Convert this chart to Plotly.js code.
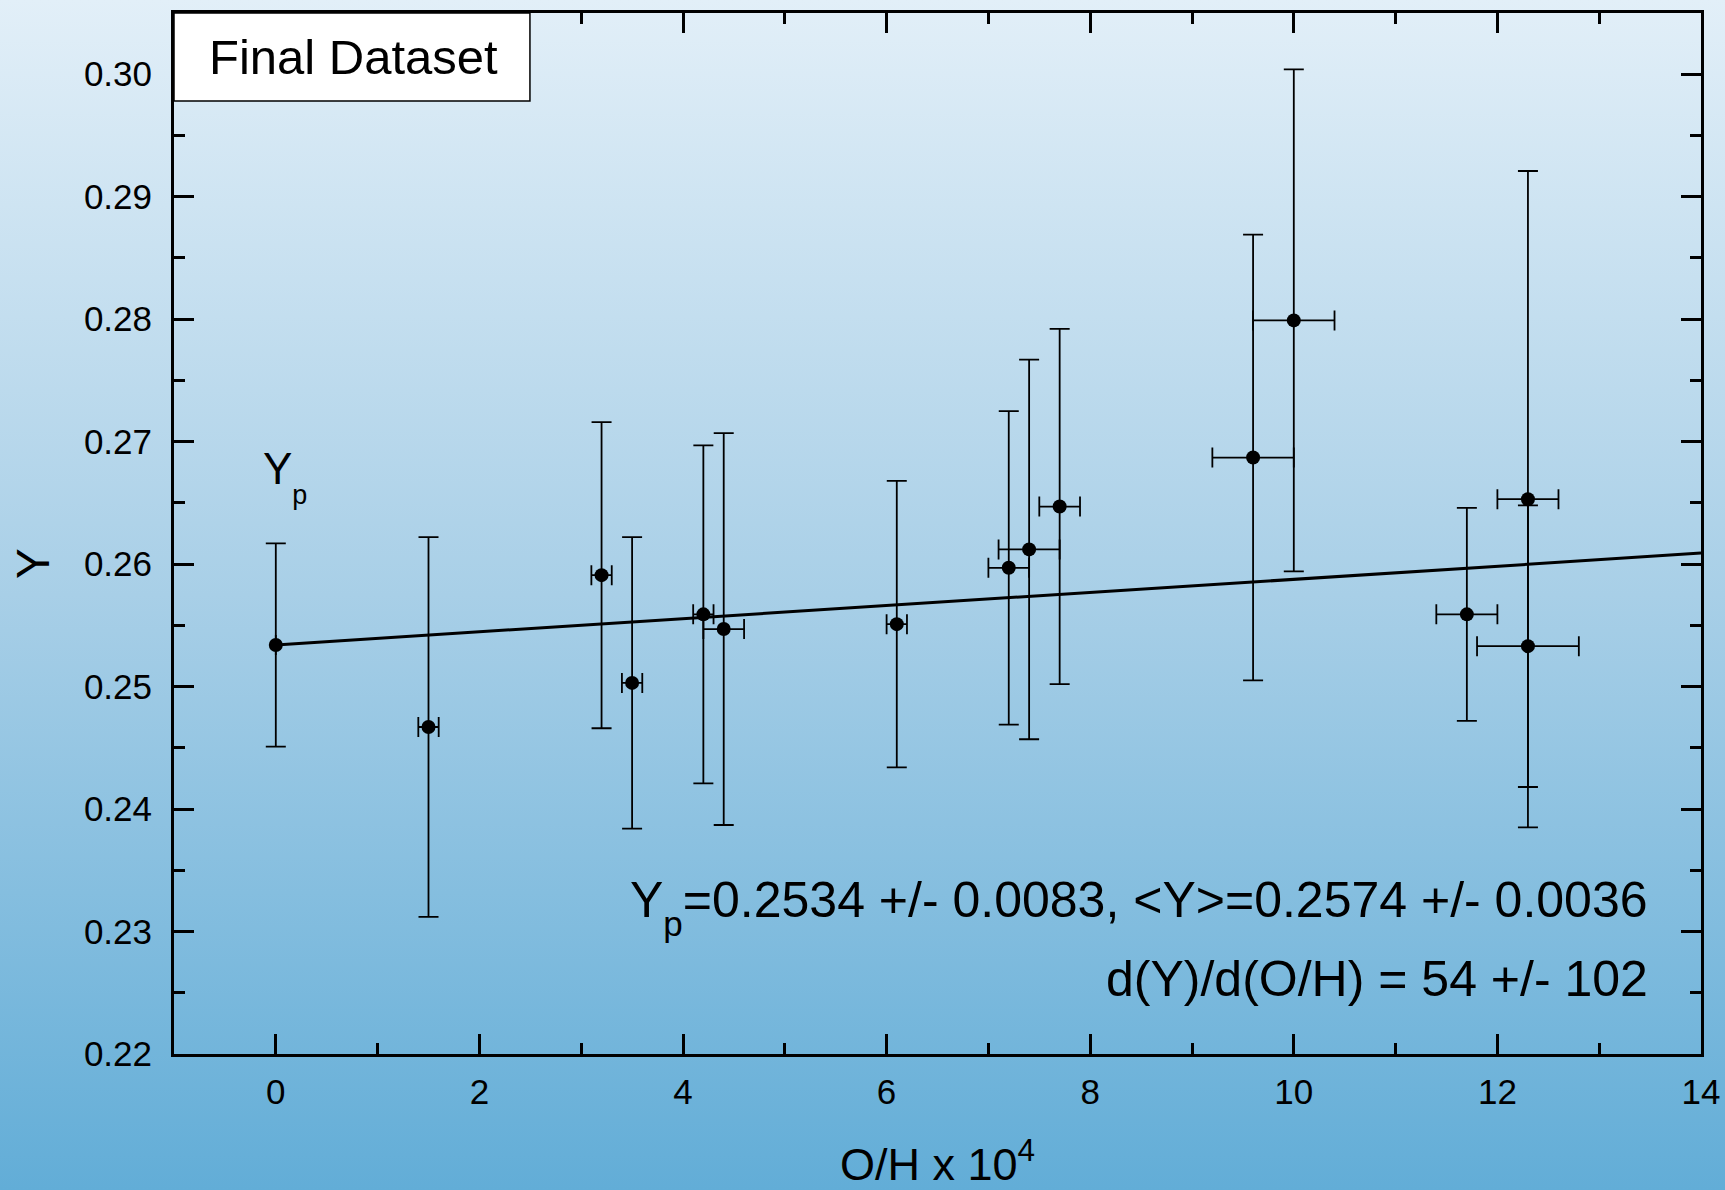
<!DOCTYPE html>
<html>
<head>
<meta charset="utf-8">
<script src="https://cdn.plot.ly/plotly-3.0.1.min.js"></script>
<style>
  html, body { margin: 0; padding: 0; }
  body { width: 1725px; height: 1190px; background: linear-gradient(to bottom, #e2eff8 0%, #a8cfe7 50%, #62add7 100%); }
  #chart { width: 1725px; height: 1190px; }
</style>
</head>
<body>
<div id="chart"></div>
<script>
// O/H x 10^4
const ohValues = [0, 1.5, 3.2, 3.5, 4.2, 4.4, 6.1, 7.2, 7.4, 7.7, 9.6, 10.0, 11.7, 12.3, 12.3];
const ohErrors = [0, 0.1, 0.1, 0.1, 0.1, 0.2, 0.1, 0.2, 0.3, 0.2, 0.4, 0.4, 0.3, 0.3, 0.5];
// Helium mass fraction Y
const yValues = [0.2534, 0.2467, 0.2591, 0.2503, 0.2559, 0.2547, 0.2551, 0.2597, 0.2612, 0.2647, 0.2687, 0.2799, 0.2559, 0.2653, 0.2533];
const yErrors = [0.0083, 0.0155, 0.0125, 0.0119, 0.0138, 0.0160, 0.0117, 0.0128, 0.0155, 0.0145, 0.0182, 0.0205, 0.0087, 0.0268, 0.0115];
// Linear fit endpoints
const fitX = [0, 14];
const fitY = [0.2534, 0.2609];
// Axis ticks
const xTicks = [0, 2, 4, 6, 8, 10, 12, 14];
const yTicks = [0.22, 0.23, 0.24, 0.25, 0.26, 0.27, 0.28, 0.29, 0.30];
const yTickLabels = ['0.22', '0.23', '0.24', '0.25', '0.26', '0.27', '0.28', '0.29', '0.30'];

const FONT = 'Liberation Sans, Arial, Helvetica, sans-serif';

const traces = [
  {
    x: fitX, y: fitY, mode: 'lines', type: 'scatter',
    line: {color: '#000', width: 3}, hoverinfo: 'skip', showlegend: false
  },
  {
    x: ohValues, y: yValues, mode: 'markers', type: 'scatter',
    marker: {color: '#000', size: 14},
    error_y: {type: 'data', array: yErrors, visible: true, color: '#000', thickness: 1.8, width: 10},
    error_x: {type: 'data', array: ohErrors, visible: true, color: '#000', thickness: 1.8, width: 10},
    showlegend: false
  }
];

const axisCommon = {
  showline: true, linecolor: '#000', linewidth: 3, mirror: 'ticks',
  ticks: 'inside', ticklen: 20, tickwidth: 3, tickcolor: '#000',
  showgrid: false, zeroline: false,
  tickfont: {family: FONT, size: 35, color: '#000'}
};

const layout = {
  width: 1725, height: 1190,
  paper_bgcolor: 'rgba(0,0,0,0)', plot_bgcolor: 'rgba(0,0,0,0)',
  margin: {l: 174, r: 24, t: 13, b: 136},
  showlegend: false,
  xaxis: Object.assign({}, axisCommon, {
    range: [-1, 14], tickmode: 'array', tickvals: xTicks,
    ticklabelstandoff: 5,
    minor: {dtick: 1, ticklen: 11, tickwidth: 3, tickcolor: '#000', ticks: 'inside', showgrid: false},
    title: {text: 'O/H x 10<sup>4</sup>', font: {family: FONT, size: 45, color: '#000'}, standoff: 48}
  }),
  yaxis: Object.assign({}, axisCommon, {
    range: [0.22, 0.305], tickmode: 'array', tickvals: yTicks, ticktext: yTickLabels,
    ticklabelstandoff: 12,
    minor: {dtick: 0.005, ticklen: 11, tickwidth: 3, tickcolor: '#000', ticks: 'inside', showgrid: false}
  }),
  shapes: [
    {type: 'rect', xref: 'paper', yref: 'paper', x0: 0, x1: 0.2331, y0: 0.9155, y1: 1,
     fillcolor: '#fff', line: {color: '#000', width: 1.5}, layer: 'above'}
  ],
  annotations: [
    {xref: 'paper', yref: 'paper', x: 0.0216, y: 0.9577, xanchor: 'left', yanchor: 'middle',
     text: 'Final Dataset', showarrow: false, font: {family: FONT, size: 49, color: '#000'}},
    {xref: 'paper', yref: 'paper', x: -0.0923, y: 0.4707, xanchor: 'center', yanchor: 'middle',
     text: 'Y', textangle: -90, showarrow: false, font: {family: FONT, size: 46, color: '#000'}},
    {xref: 'x', yref: 'y', x: -0.15, y: 0.2671, xanchor: 'left', yanchor: 'middle',
     text: 'Y<span style="font-size:27px;baseline-shift:-20px">p</span>', showarrow: false,
     font: {family: FONT, size: 44, color: '#000'}},
    {xref: 'paper', yref: 'paper', x: 0.9667, y: 0.141, xanchor: 'right', yanchor: 'middle',
     text: 'Y<span style="font-size:35px;baseline-shift:-19px">p</span>=0.2534 +/- 0.0083, &lt;Y&gt;=0.2574 +/- 0.0036', showarrow: false,
     font: {family: FONT, size: 50, color: '#000'}},
    {xref: 'paper', yref: 'paper', x: 0.9669, y: 0.072, xanchor: 'right', yanchor: 'middle',
     text: 'd(Y)/d(O/H) = 54 +/- 102', showarrow: false,
     font: {family: FONT, size: 50, color: '#000'}}
  ]
};

Plotly.newPlot('chart', traces, layout, {displayModeBar: false, staticPlot: true});
</script>
</body>
</html>
